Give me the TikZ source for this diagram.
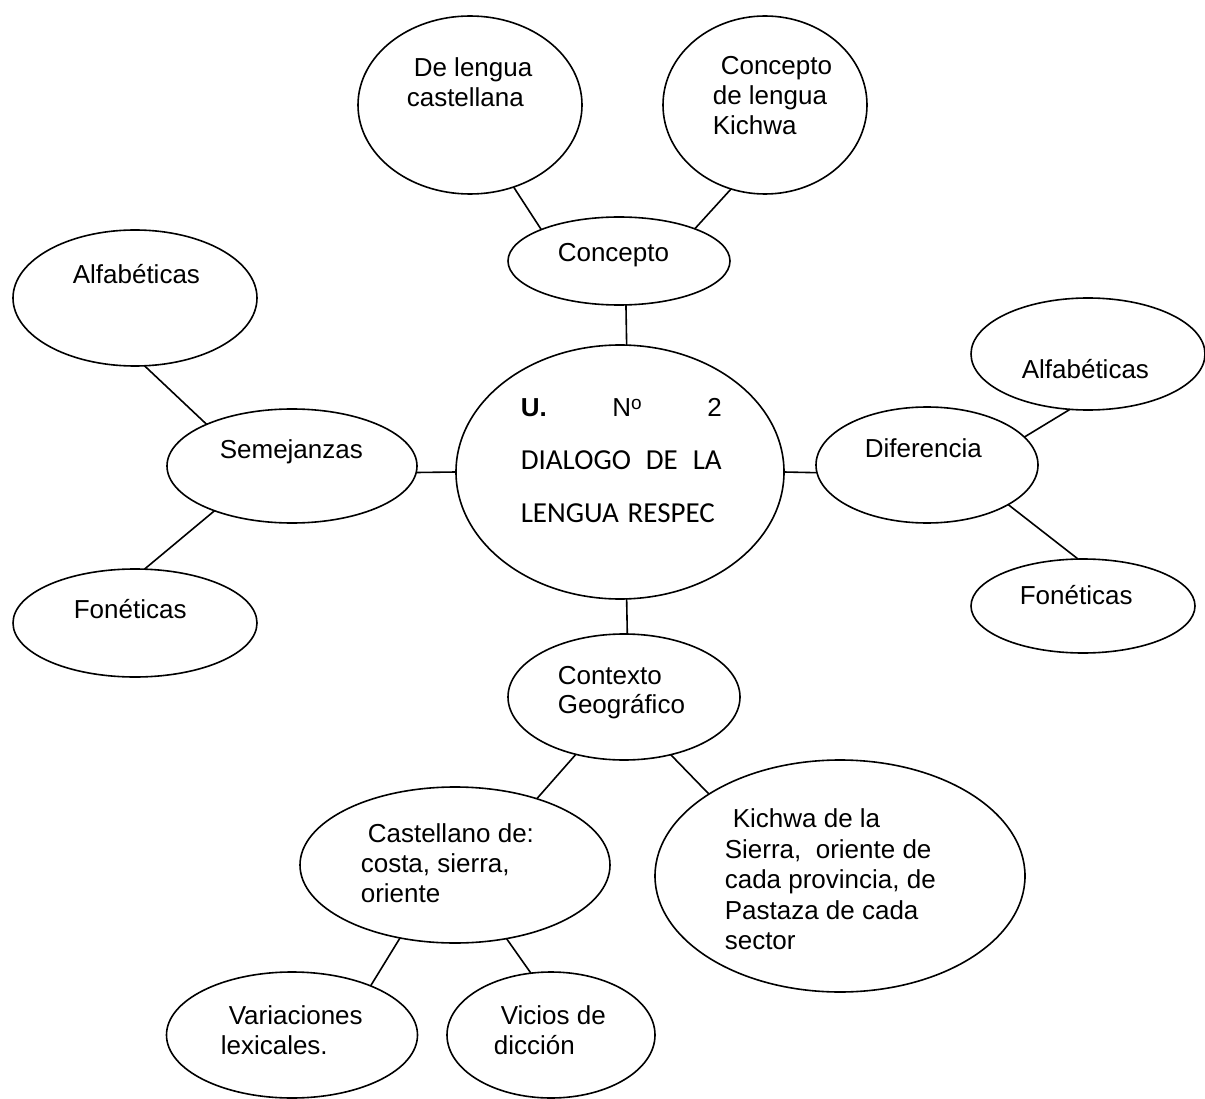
\documentclass[tikz,border=0pt]{standalone}
\usepackage{fontspec}
\setmainfont{Liberation Sans}
\newfontfamily\calibri{Carlito}
\usetikzlibrary{shapes.geometric}
\begin{document}
\begin{tikzpicture}[x=1pt,y=-1pt,line width=1.6pt,
	blob/.style={draw,ellipse,inner sep=0pt,outer sep=0pt},
	txt/.style={anchor=north west,inner sep=0pt,align=left,font=\fontsize{26}{30}\selectfont}]
				\useasboundingbox[fill=white] (0,0) rectangle (1205,1099);
				% ellipses
				\node[blob,minimum width=224,minimum height=178] (castl) at (470,105){};
				\node[blob,minimum width=204,minimum height=178] (kichc) at (765,105){};
				\node[blob,minimum width=222,minimum height=88] (concepto) at (619,261){};
				\node[blob,minimum width=244,minimum height=136] (alfaL) at (135,298){};
				\node[blob,minimum width=250,minimum height=114] (semej) at (292,466){};
				\node[blob,minimum width=244,minimum height=108] (fonL) at (135,623){};
				\node[blob,minimum width=328,minimum height=254] (unidad) at (620,472){};
				\node[blob,minimum width=222,minimum height=116] (difer) at (927,465){};
				\node[blob,minimum width=234,minimum height=112] (alfaR) at (1088,354){};
				\node[blob,minimum width=224,minimum height=94] (fonR) at (1083,606){};
				\node[blob,minimum width=232,minimum height=126] (contexto) at (624,697){};
				\node[blob,minimum width=310,minimum height=156] (castell) at (455,865){};
				\node[blob,minimum width=370,minimum height=232] (kichwa) at (840,876){};
				\node[blob,minimum width=251,minimum height=126] (variac) at (292,1035){};
				\node[blob,minimum width=208,minimum height=126] (vicios) at (551,1035){};
				% texts
				\node[txt] (castl-t) at (406,57){\hspace*{7pt}De lengua\\castellana};
				\node[txt] (kichc-t) at (712,56){\hspace*{8pt}Concepto\\de lengua\\Kichwa};
				\node[txt] (concepto-t) at (557,243){Concepto};
				\node[txt] (alfaL-t) at (72,264){Alfabéticas};
				\node[txt] (semej-t) at (219,439){Semejanzas};
				\node[txt] (fonL-t) at (73,599){Fonéticas};
				\node[txt,text width=201pt,font=\fontsize{26}{53}\selectfont] (unidad-t) at (520,398){%
					\textbf{U.}\hfill N\raisebox{7.5pt}{\fontsize{19}{19}\selectfont o}\hfill 2\\
					\calibri\fontsize{29}{53}\selectfont DIALOGO\hfill DE\hfill LA\\
					LENGUA RESPEC};
				\node[txt] (difer-t) at (864,438){Diferencia};
				\node[txt] (alfaR-t) at (1021,359){Alfabéticas};
				\node[txt] (fonR-t) at (1019,585){Fonéticas};
				\node[txt,font=\fontsize{26}{29}\selectfont] (contexto-t) at (557,666){Contexto\\Geográfico};
				\node[txt] (castell-t) at (360,823){\hspace*{7pt}Castellano de:\\costa, sierra,\\oriente};
				\node[txt,font=\fontsize{26}{30.5}\selectfont] (kichwa-t) at (724,808){\hspace*{8pt}Kichwa de la\\Sierra,\ \ oriente de\\cada provincia, de\\Pastaza de cada\\sector};
				\node[txt] (variac-t) at (220,1005){\hspace*{8pt}Variaciones\\lexicales.};
				\node[txt] (vicios-t) at (493,1005){\hspace*{7pt}Vicios de\\dicción};
				% connectors
				\draw (castl.-62)--(concepto.158);
				\draw (kichc.248)--(concepto.23);
				\draw (concepto.-81)--(unidad.87);
				\draw (alfaL.-82)--(semej.154);
				\draw (semej.210)--(fonL.80);
				\draw (semej.-3)--(unidad.180);
				\draw (unidad.0)--(difer.184);
				\draw (difer.16)--(alfaR.252);
				\draw (difer.-26)--(fonR.96);
				\draw (unidad.-87)--(contexto.87);
				\draw (contexto.230)--(castell.39);
				\draw (contexto.-51)--(kichwa.148);
				\draw (castell.233)--(variac.32);
				\draw (castell.-55)--(vicios.108);
				\end{tikzpicture}
\end{document}
